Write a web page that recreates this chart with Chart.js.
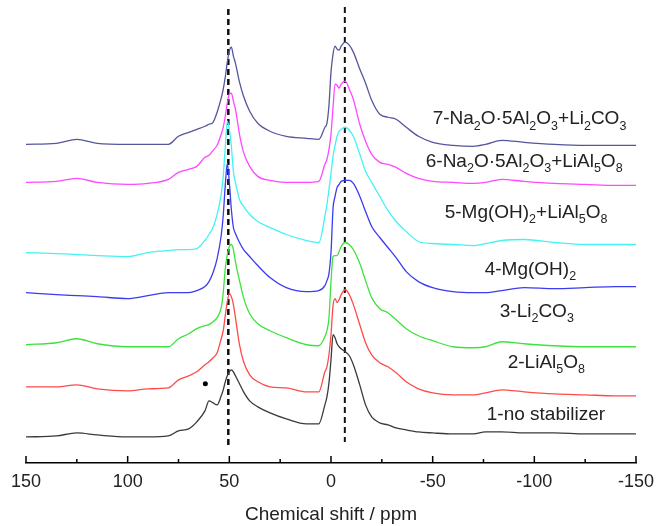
<!DOCTYPE html>
<html>
<head>
<meta charset="utf-8">
<script src="https://cdn.jsdelivr.net/npm/chart.js@4.4.1/dist/chart.umd.min.js"></script>
<style>
  html, body { margin: 0; padding: 0; background: #fff; }
  #wrap { width: 667px; height: 526px; }
</style>
</head>
<body>
<div id="wrap"><canvas id="nmr"></canvas></div>
<script>
// chemical shift grid (ppm), shared by all spectra
const ppm = [150, 135, 125, 115, 100, 90, 80, 75, 70, 66, 62, 60, 58, 56, 54, 53, 52, 51, 50, 49, 48, 47, 45, 43, 40, 36, 30, 22, 12, 6,
  3, 2, 1, 0, -1, -2, -3, -4, -5, -7, -9, -11, -14, -17, -20, -24, -28, -32, -37, -43, -50, -60, -70, -76, -84, -95, -110, -125, -140, -150];

// intensities above each trace's own baseline
const s1 = [0, 1, 4, 2, 0, 0, 1, 6, 8, 15, 26, 36, 34, 32, 41, 47, 55, 61, 65, 67, 65, 61, 53, 45, 36, 30, 24, 18, 13, 13,
  32, 40, 54, 77, 102, 99, 93, 90, 88, 85, 81, 72, 53, 32, 20, 14, 12, 9, 7, 5, 4, 3, 3, 5, 5, 4, 4, 3, 3, 3];
const s2 = [0, 0, 2, -2, -4, -2, -1, 7, 11, 15, 22, 25, 29, 34, 48, 56, 71, 85, 93, 90, 82, 69, 42, 25, 12, 5, 0, -1, -5, -5,
  15, 20, 32, 52, 81, 88, 84, 87, 92, 97, 92, 82, 63, 44, 32, 24, 20, 14, 5, -2, -6, -8, -8, -6, -3, -5, -7, -8, -9, -9];
const s3 = [0, 2, 6, 1, -2, -2, -2, 6, 11, 16, 19, 20, 23, 27, 37, 52, 76, 90, 98, 100, 95, 83, 64, 47, 31, 21, 14, 7, 0, -1,
  8, 14, 27, 63, 88, 89, 89, 93, 98, 102, 100, 95, 82, 64, 47, 36, 32, 25, 16, 9, 4, -2, -3, -2, 3, 1, -1, -2, -2, -2];
const s4 = [0, -2, -3, -4, -6, -3, 0, 0, 0, 2, 6, 11, 20, 34, 57, 77, 107, 129, 110, 83, 65, 59, 50, 43, 36, 27, 15, 5, 1, 2,
  7, 12, 19, 40, 84, 96, 105, 108, 111, 112, 112, 109, 97, 81, 66, 55, 45, 35, 21, 11, 5, 1, 0, 0, 2, 5, 4, 5, 6, 6];
const s5 = [0, -1, -2, -3, -4, 0, 2, 3, 3, 4, 12, 18, 25, 38, 58, 76, 105, 131, 123, 106, 81, 70, 53, 46, 38, 31, 25, 18, 12, 10,
  36, 48, 63, 79, 96, 107, 116, 121, 123, 125, 122, 116, 99, 81, 70, 56, 42, 31, 21, 11, 9, 8, 7, 9, 12, 13, 10, 8, 8, 8];
const s6 = [0, 1, 4, 0, -2, -1, 3, 10, 13, 16, 25, 27, 32, 37, 48, 55, 66, 79, 88, 89, 81, 73, 48, 30, 16, 6, 2, 0, 0, 1,
  18, 23, 33, 48, 75, 98, 97, 94, 98, 101, 93, 83, 59, 41, 28, 20, 18, 15, 9, 4, 1, 0, -1, 0, 3, 1, -1, -2, -3, -3];
const s7 = [0, 1, 5, 1, 0, 0, 0, 8, 12, 15, 18, 20, 22, 32, 46, 55, 67, 82, 93, 97, 88, 81, 62, 48, 33, 21, 13, 8, 6, 5,
  17, 21, 39, 72, 90, 98, 95, 94, 98, 102, 99, 92, 76, 61, 44, 30, 27, 25, 17, 8, 2, -1, -2, 0, 4, 2, 0, -1, -1, -1];

const spectra = [s1, s2, s3, s4, s5, s6, s7];
const offsets = [26, 76, 118, 170, 210, 280, 318];
const names = ['1-no stabilizer', '2-LiAl_5O_8', '3-Li_2CO_3', '4-Mg(OH)_2', '5-Mg(OH)_2+LiAl_5O_8',
  '6-Na_2O·5Al_2O_3+LiAl_5O_8', '7-Na_2O·5Al_2O_3+Li_2CO_3'];
const refLines = [50.5, -6.8];   // dashed guide positions (ppm)
const dotMark = [61.8, 79];      // marked side band

const colors = ['#3a3a3a', '#ff4a4a', '#3ee23e', '#3b3bf2', '#45f2f2', '#ff48ff', '#55559c'];
// label anchors (ppm, height) for the right hand captions
const labelPos = [[-76.6, 48], [-86.9, 100], [-83.0, 151], [-75.6, 193], [-55.9, 250], [-46.6, 301], [-50.0, 343]];

const datasets = spectra.map((s, k) => ({
  data: ppm.map((x, i) => ({ x: x, y: s[i] + offsets[k] })),
  borderColor: colors[k],
  borderWidth: 1.3,
  pointRadius: 0,
  cubicInterpolationMode: 'monotone'
}));
datasets.push({ data: [{ x: refLines[0], y: 453 }, { x: refLines[0], y: 18 }], borderColor: '#111', borderWidth: 2.5, borderDash: [6, 4], pointRadius: 0 });
datasets.push({ data: [{ x: refLines[1], y: 455 }, { x: refLines[1], y: 21 }], borderColor: '#111', borderWidth: 2, borderDash: [6, 4], pointRadius: 0 });
datasets.push({ type: 'scatter', data: [{ x: dotMark[0], y: dotMark[1] }], pointRadius: 2.5, backgroundColor: '#000', borderWidth: 0 });

function drawRich(ctx, text, x, y) {
  let pos = x;
  for (let i = 0; i < text.length; i++) {
    let ch = text[i];
    if (ch === '_') {
      ch = text[++i];
      ctx.font = '12.5px Arial, "Liberation Sans"';
      ctx.fillText(ch, pos, y + 7);
    } else {
      ctx.font = '19px Arial, "Liberation Sans"';
      ctx.fillText(ch, pos, y);
    }
    pos += ctx.measureText(ch).width;
  }
}

const extras = {
  id: 'extras',
  afterDraw(chart) {
    const ctx = chart.ctx;
    const xs = chart.scales.x, ys = chart.scales.y;
    const bottom = chart.chartArea.bottom;
    ctx.save();
    // inward tick marks
    ctx.strokeStyle = '#000';
    ctx.lineWidth = 1.5;
    xs.ticks.forEach(t => {
      const px = xs.getPixelForValue(t.value);
      const len = t.value % 50 === 0 ? 7 : 4;
      ctx.beginPath();
      ctx.moveTo(px, bottom);
      ctx.lineTo(px, bottom - len);
      ctx.stroke();
    });
    // captions
    ctx.fillStyle = '#222';
    ctx.textBaseline = 'middle';
    ctx.textAlign = 'left';
    names.forEach((n, i) => {
      drawRich(ctx, n, xs.getPixelForValue(labelPos[i][0]), ys.getPixelForValue(labelPos[i][1]));
    });
    ctx.restore();
  }
};

new Chart(document.getElementById('nmr'), {
  type: 'line',
  data: { datasets: datasets },
  plugins: [extras],
  options: {
    responsive: true,
    maintainAspectRatio: false,
    animation: false,
    layout: { padding: { left: 26, right: 31, top: 0, bottom: 0 } },
    plugins: { legend: { display: false }, tooltip: { enabled: false } },
    scales: {
      x: {
        type: 'linear',
        reverse: true,
        min: -150,
        max: 150,
        grid: { display: false, drawTicks: false },
        border: { display: true, color: '#000', width: 1.5 },
        ticks: {
          stepSize: 25,
          padding: 8,
          color: '#222',
          font: { size: 18, family: 'Arial, "Liberation Sans"' },
          maxRotation: 0,
          autoSkip: false,
          callback: v => (v % 50 === 0 ? String(v) : '')
        },
        title: {
          display: true,
          text: 'Chemical shift / ppm',
          color: '#222',
          font: { size: 19, family: 'Arial, "Liberation Sans"' },
          padding: { top: 2.6, bottom: 0 }
        }
      },
      y: { display: false, min: 0, max: 458 }
    }
  }
});
</script>
</body>
</html>
